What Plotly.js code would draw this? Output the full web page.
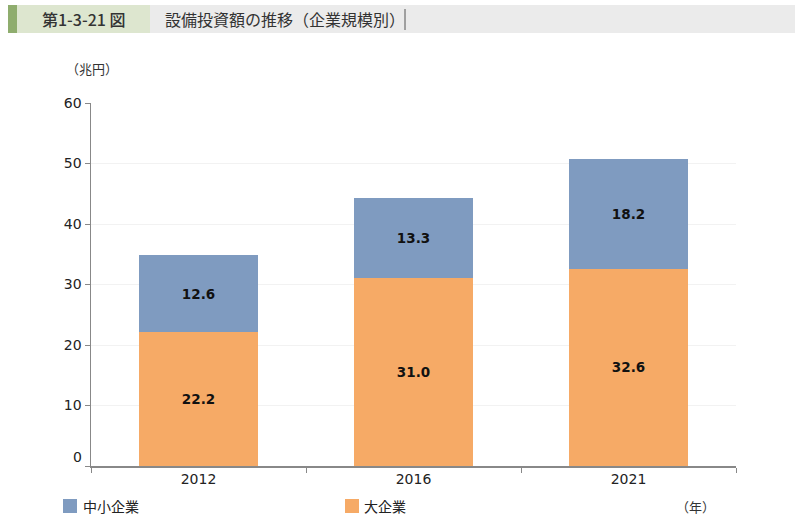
<!DOCTYPE html>
<html>
<head>
<meta charset="utf-8">
<script src="https://cdn.plot.ly/plotly-3.0.1.min.js"></script>
<style>
html,body{margin:0;padding:0;background:#fff;}
#chart{width:800px;height:519px;}
</style>
</head>
<body>
<div id="chart"></div>
<script>
const years = ['2012', '2016', '2021'];
const largeFirms = [22.2, 31.0, 32.6];
const smeFirms = [12.6, 13.3, 18.2];
const seriesNames = ['大企業', '中小企業'];
const seriesColors = ['#f6aa66', '#7f9bc0'];
const yTicks = [0, 10, 20, 30, 40, 50, 60];

const numFont = 'DejaVu Sans, Verdana, sans-serif';
const labelFont = {family: numFont, size: 13.5, color: '#111'};
const jp = 'Noto Sans CJK JP, sans-serif';

const traces = [
  {
    type: 'bar', name: seriesNames[0], x: years, y: largeFirms,
    marker: {color: seriesColors[0]}, width: 0.558,
    text: largeFirms.map(v => '<b>' + v.toFixed(1) + '</b>'),
    textposition: 'inside', insidetextanchor: 'middle', textangle: 0,
    textfont: labelFont, hoverinfo: 'skip'
  },
  {
    type: 'bar', name: seriesNames[1], x: years, y: smeFirms,
    marker: {color: seriesColors[1]}, width: 0.558,
    text: smeFirms.map(v => '<b>' + v.toFixed(1) + '</b>'),
    textposition: 'inside', insidetextanchor: 'middle', textangle: 0,
    textfont: labelFont, hoverinfo: 'skip'
  }
];

// pixel helpers (plot area: x 91..736, y 103..466)
const L = 91, T = 103, W = 645, H = 363;
const px = x => (x - L) / W;
const py = y => 1 - (y - T) / H;

const layout = {
  width: 800, height: 519,
  margin: {l: L, r: 800 - L - W, t: T, b: 519 - T - H},
  paper_bgcolor: '#fff', plot_bgcolor: '#fff',
  barmode: 'stack',
  showlegend: false,
  xaxis: {
    type: 'category', range: [-0.5, 2.5],
    tickson: 'boundaries', ticks: 'outside', ticklen: 5, tickcolor: '#888',
    showline: true, linecolor: '#888', linewidth: 1.5,
    showgrid: false,
    tickfont: {family: numFont, size: 14, color: '#222'}
  },
  yaxis: {
    range: [0, 60], tickvals: yTicks, ticktext: yTicks.map(v => v === 0 ? '' : String(v)),
    ticks: 'outside', ticklen: 5, tickcolor: '#888',
    showline: true, linecolor: '#888', linewidth: 1.5,
    showgrid: true, gridcolor: '#f2f2f2', gridwidth: 1,
    zeroline: false,
    tickfont: {family: numFont, size: 14, color: '#222'}
  },
  shapes: [
    {type: 'rect', xref: 'paper', yref: 'paper', x0: px(8), x1: px(17), y0: py(5), y1: py(33), fillcolor: '#8fad6e', line: {width: 0}, layer: 'above'},
    {type: 'rect', xref: 'paper', yref: 'paper', x0: px(17), x1: px(150), y0: py(5), y1: py(33), fillcolor: '#dde6cf', line: {width: 0}, layer: 'above'},
    {type: 'rect', xref: 'paper', yref: 'paper', x0: px(150), x1: px(795), y0: py(5), y1: py(33), fillcolor: '#ebebeb', line: {width: 0}, layer: 'above'},
    {type: 'line', xref: 'paper', yref: 'paper', x0: px(405), x1: px(405), y0: py(9), y1: py(30), line: {color: '#555', width: 1}, layer: 'above'},
    // legend swatches
    {type: 'rect', xref: 'paper', yref: 'paper', x0: px(63), x1: px(77), y0: py(499), y1: py(513), fillcolor: seriesColors[1], line: {width: 0}},
    {type: 'rect', xref: 'paper', yref: 'paper', x0: px(345), x1: px(359), y0: py(499), y1: py(513), fillcolor: seriesColors[0], line: {width: 0}}
  ],
  annotations: [
    {xref: 'paper', yref: 'paper', x: px(40), y: py(19), xanchor: 'left', yanchor: 'middle', showarrow: false,
     text: '第1-3-21 図', font: {family: jp, size: 16, color: '#333', weight: 500}},
    {xref: 'paper', yref: 'paper', x: px(163), y: py(19), xanchor: 'left', yanchor: 'middle', showarrow: false,
     text: '設備投資額の推移（企業規模別）', font: {family: jp, size: 16, color: '#333'}},
    {xref: 'paper', yref: 'paper', x: px(64), y: py(68), xanchor: 'left', yanchor: 'middle', showarrow: false,
     text: '（兆円）', font: {family: jp, size: 13, color: '#333'}},
    {xref: 'paper', yref: 'paper', x: px(674), y: py(507), xanchor: 'left', yanchor: 'middle', showarrow: false,
     text: '（年）', font: {family: jp, size: 13, color: '#333'}},
    {xref: 'paper', yref: 'paper', x: px(84), y: py(457), xanchor: 'right', yanchor: 'middle', showarrow: false,
     text: '0', font: {family: numFont, size: 14, color: '#222'}},
    {xref: 'paper', yref: 'paper', x: px(81), y: py(506), xanchor: 'left', yanchor: 'middle', showarrow: false,
     text: seriesNames[1], font: {family: jp, size: 14, color: '#222'}},
    {xref: 'paper', yref: 'paper', x: px(362), y: py(506), xanchor: 'left', yanchor: 'middle', showarrow: false,
     text: seriesNames[0], font: {family: jp, size: 14, color: '#222'}}
  ]
};

Plotly.newPlot('chart', traces, layout, {staticPlot: true, displayModeBar: false});
</script>
</body>
</html>
